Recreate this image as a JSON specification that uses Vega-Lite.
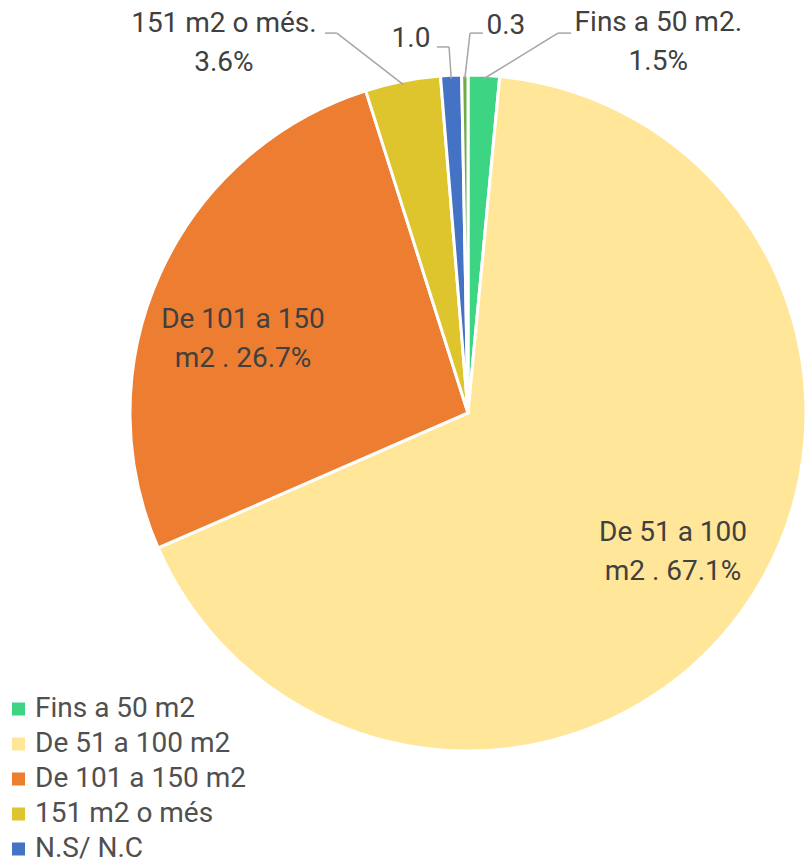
{
  "$schema": "https://vega.github.io/schema/vega-lite/v6.json",
  "width": 936,
  "height": 826,
  "autosize": {"type": "none"},
  "padding": {"top": 0, "left": 0, "right": 0, "bottom": 40},
  "background": "white",
  "config": {"view": {"stroke": null}, "font": "Roboto"},
  "data": {
    "values": [
      {"cat": "Fins a 50 m2", "v": 1.5, "ord": 1, "label": "Fins a 50 m2.\n1.5%"},
      {"cat": "De 51 a 100 m2", "v": 67.1, "ord": 2, "label": "De 51 a 100\nm2 . 67.1%"},
      {"cat": "De 101 a 150 m2", "v": 26.7, "ord": 3, "label": "De 101 a 150\nm2 . 26.7%"},
      {"cat": "151 m2 o més", "v": 3.6, "ord": 4, "label": "151 m2 o més.\n3.6%"},
      {"cat": "N.S/ N.C", "v": 1.0, "ord": 5, "label": "1.0"},
      {"cat": "Altres", "v": 0.3, "ord": 6, "label": "0.3"}
    ]
  },
  "layer": [
    {
      "mark": {"type": "arc", "outerRadius": 338, "stroke": "white", "strokeWidth": 3},
      "encoding": {
        "theta": {"field": "v", "type": "quantitative", "stack": true},
        "order": {"field": "ord", "type": "quantitative"},
        "color": {
          "field": "cat",
          "type": "nominal",
          "scale": {
            "domain": ["Fins a 50 m2", "De 51 a 100 m2", "De 101 a 150 m2", "151 m2 o més", "N.S/ N.C", "Altres"],
            "range": ["#3DD584", "#FFE699", "#ED7D31", "#DFC52D", "#4472C4", "#6FAC46"]
          },
          "legend": {
            "values": ["Fins a 50 m2", "De 51 a 100 m2", "De 101 a 150 m2", "151 m2 o més", "N.S/ N.C"],
            "orient": "none",
            "legendX": 4.5,
            "legendY": 695,
            "padding": 0,
            "title": null,
            "labelFont": "Roboto",
            "labelFontSize": 28,
            "labelColor": "#505050",
            "labelLimit": 400,
            "symbolType": "square",
            "symbolSize": 169,
            "symbolStrokeWidth": 0,
            "rowPadding": 7,
            "labelOffset": 2.5
          }
        }
      }
    },
    {
      "transform": [
        {"joinaggregate": [{"op": "sum", "field": "v", "as": "tot"}]},
        {"window": [{"op": "sum", "field": "v", "as": "cum"}], "sort": [{"field": "ord"}]},
        {"calculate": "(datum.cum - datum.v/2)/datum.tot*2*PI", "as": "mid"},
        {"calculate": "datum.ord==1?0.428:datum.ord==2?-0.031:datum.ord==3?-0.112:datum.ord==4?-0.389:datum.ord==5?-0.101:0.107", "as": "off"},
        {"calculate": "datum.ord==1?1.231:datum.ord==2?0.733:datum.ord==3?0.700:datum.ord==4?1.311:datum.ord==5?1.119:1.151", "as": "lr"},
        {"calculate": "sin(datum.mid+datum.off)*datum.lr", "as": "lx"},
        {"calculate": "cos(datum.mid+datum.off)*datum.lr + (datum.ord <= 4 ? 19.5/338 : 0)", "as": "ly"}
      ],
      "mark": {"type": "text", "font": "Roboto", "fontSize": 28, "color": "#404040", "align": "center", "baseline": "middle", "lineBreak": "\n", "lineHeight": 39},
      "encoding": {
        "x": {"field": "lx", "type": "quantitative", "scale": {"domain": [-1.38462, 1.38462], "nice": false, "zero": false}, "axis": null},
        "y": {"field": "ly", "type": "quantitative", "scale": {"domain": [-1.22189, 1.22189], "nice": false, "zero": false}, "axis": null},
        "text": {"field": "label", "type": "nominal"}
      }
    },
    {
      "transform": [
        {"joinaggregate": [{"op": "sum", "field": "v", "as": "tot"}]},
        {"window": [{"op": "sum", "field": "v", "as": "cum"}], "sort": [{"field": "ord"}]},
        {"filter": "datum.ord==1 || datum.ord==4 || datum.ord==5 || datum.ord==6"},
        {"calculate": "(datum.cum - datum.v/2)/datum.tot*2*PI", "as": "mid"},
        {"calculate": "sin(datum.mid)*0.99", "as": "sx"},
        {"calculate": "cos(datum.mid)*0.99", "as": "sy"},
        {"calculate": "datum.ord==1?0.266:datum.ord==4?-0.388:datum.ord==5?-0.056:0.006", "as": "ex"},
        {"calculate": "datum.ord==5?1.083:1.124", "as": "ey"},
        {"calculate": "datum.ord==1?0.305:datum.ord==4?-0.423:datum.ord==5?-0.092:0.044", "as": "hx"}
      ],
      "layer": [
        {
          "mark": {"type": "rule", "color": "#A6A6A6", "strokeWidth": 1.5},
          "encoding": {
            "x": {"field": "sx", "type": "quantitative", "scale": {"domain": [-1.38462, 1.38462], "nice": false, "zero": false}, "axis": null},
            "y": {"field": "sy", "type": "quantitative", "scale": {"domain": [-1.22189, 1.22189], "nice": false, "zero": false}, "axis": null},
            "x2": {"field": "ex"},
            "y2": {"field": "ey"}
          }
        },
        {
          "mark": {"type": "rule", "color": "#A6A6A6", "strokeWidth": 1.5},
          "encoding": {
            "x": {"field": "ex", "type": "quantitative", "scale": {"domain": [-1.38462, 1.38462], "nice": false, "zero": false}, "axis": null},
            "y": {"field": "ey", "type": "quantitative", "scale": {"domain": [-1.22189, 1.22189], "nice": false, "zero": false}, "axis": null},
            "x2": {"field": "hx"}
          }
        }
      ]
    }
  ]
}
